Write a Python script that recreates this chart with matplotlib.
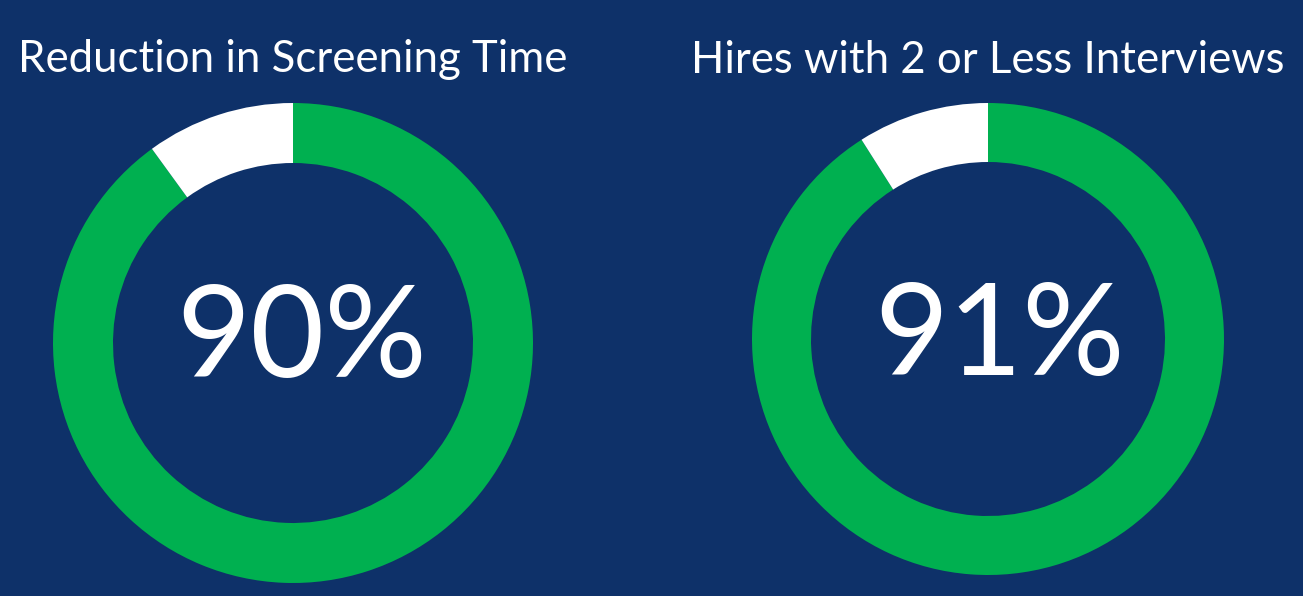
import matplotlib.pyplot as plt

# data
titles = ['Reduction in Screening Time', 'Hires with 2 or Less Interviews']
percents = [90, 91]

bg = '#0E3169'
green = '#00B050'
white = '#FFFFFF'

W, H = 1303, 596
fig = plt.figure(figsize=(W / 100, H / 100), dpi=100, facecolor=bg)
ax = fig.add_axes([0, 0, 1, 1])
ax.set_facecolor(bg)

# donut geometry in pixel units (y measured from bottom)
centers = [(293, H - 343), (988, H - 339)]
radii = [240, 236]
widths = [60, 59]
title_pos = [(293, H - 72), (988, H - 73)]
num_pos = [(302, H - 377), (1000, H - 375)]

for i in range(2):
    p = percents[i]
    ax.pie([p, 100 - p], colors=[green, white], startangle=90, counterclock=False,
           radius=radii[i], center=centers[i],
           wedgeprops=dict(width=widths[i], linewidth=0))
    ax.text(title_pos[i][0], title_pos[i][1], titles[i], color='white',
            fontsize=31.5, family='Lato', ha='center', va='baseline')
    ax.text(num_pos[i][0], num_pos[i][1], '{}%'.format(p), color='white',
            fontsize=92, family='Lato', ha='center', va='baseline')

ax.set_xlim(0, W)
ax.set_ylim(0, H)
ax.set_aspect('auto')
ax.axis('off')

fig.savefig('out.png', dpi=100, facecolor=bg)
